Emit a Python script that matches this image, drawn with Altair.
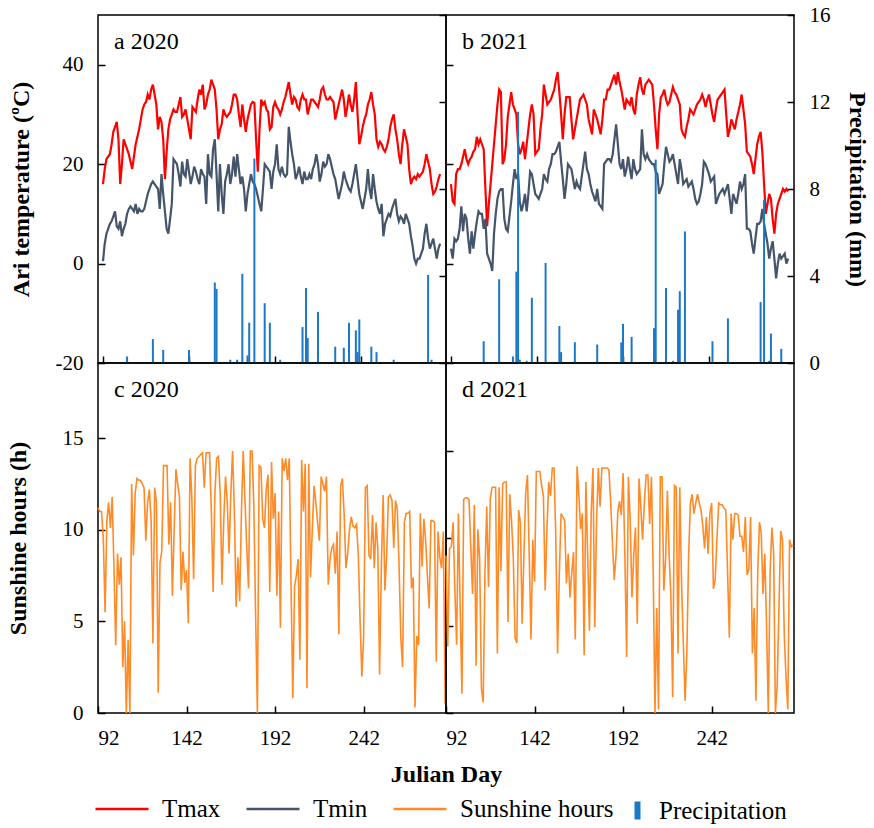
import altair as alt
import pandas as pd

# ---- daily series, Julian day 92 .. 288 -------------------------------------
FIRST_DAY = 92
X_DOMAIN = [92, 288.5]
X_TICKS = [92, 142, 192, 242]

tmax_2020 = [
    16, 19, 21, 21.5, 22, 24, 26.5, 27.5, 28.5, 25,
    16, 20, 25, 24, 23, 22, 20.5, 19, 21.5, 24,
    25.5, 27, 29, 31, 32, 32.5, 34, 33, 35, 36,
    34, 32, 27, 29.5, 28.5, 25, 17, 22.5, 27, 29,
    30, 31, 30.5, 30.5, 32, 33.5, 29.5, 30, 31, 29,
    27, 25, 31.5, 31, 30.5, 33, 35, 34, 36, 31,
    32, 34, 35, 37, 36, 35, 31, 25, 27, 28,
    31, 30, 29.5, 30, 30.5, 32, 34, 34, 33, 30,
    27.5, 32, 29, 26.5, 29, 30.5, 32, 32.5, 32.3, 25,
    18.5, 27, 33, 32, 32.5, 31, 30.5, 27, 27.5, 31.5,
    32.5, 31.5, 31, 30, 31, 32.5, 33.5, 35, 36.5, 34,
    32, 33.5, 33, 31.5, 31, 33, 34, 33, 33, 30,
    31.5, 33, 33, 32.5, 32, 31.5, 33, 35, 35.5, 34,
    33, 33, 33.5, 33, 32.5, 29, 30.5, 32, 33.5, 35,
    33, 29.5, 31.5, 34, 32, 30.5, 33, 36.5, 30, 24,
    25.5, 27.5, 29, 30, 32, 33, 34.5, 32, 30, 25,
    23.5, 24.5, 24, 23, 22.5, 23.5, 25, 27.5, 29, 30,
    27, 25, 22, 20, 24, 27, 25.5, 24, 19, 16,
    17, 17.5, 17, 18, 17.5, 18, 18.5, 20, 22, 20.5,
    19, 16, 14, 14.5, 15.5, 17, 18,
]
tmin_2020 = [
    0.5, 4, 6, 7, 8, 8.5, 9.5, 10.5, 7.5, 7,
    8.5, 5.5, 7, 8, 10, 11, 11.5, 11, 10.5, 12,
    10, 11, 10.5, 10.5, 11, 12.5, 14, 15, 16, 16.5,
    16, 15.5, 15, 11, 18, 14, 10.5, 7, 6, 9,
    12, 21, 20.5, 20, 18, 15.5, 20.5, 18, 17.5, 21,
    18.5, 16, 17.5, 19.5, 18.5, 17, 16, 19, 18, 17.5,
    12, 22, 18, 17.5, 23, 25, 18, 10.5, 20, 14,
    10, 16.5, 18, 20, 16, 18, 21.5, 17.5, 22, 19,
    16, 17.5, 15, 10.5, 14, 16, 18, 16.5, 16, 15,
    13.5, 12, 10.5, 15, 20, 19.5, 19, 18.5, 15, 18.5,
    20, 24, 19, 18, 19.5, 18, 17.5, 18, 27.5, 24.5,
    22, 20, 17, 18, 19.5, 17.5, 16, 18.5, 17, 17,
    18, 17, 19, 20, 22, 20, 16.5, 18, 20.5, 19.5,
    20, 22, 21, 19.5, 18, 17, 15, 13, 14.5, 16,
    18.5, 17, 16, 15, 14.5, 16, 18, 20, 17, 14,
    12.5, 11, 13, 15, 19, 15, 13, 18, 15, 12.5,
    11, 10, 12, 5.5, 8, 9, 10, 9.5, 11, 12,
    13, 10, 8.5, 9.5, 9, 8, 10, 9, 8, 5.5,
    3.5, 1, 0, 1, 1, 2, 3, 6, 8, 5,
    3, 4, 5, 3, 1, 3, 4,
]
tmax_2021 = [
    16, 12.5, 12, 18, 19, 19, 20, 21.5, 23, 21,
    20, 21, 21.5, 22.5, 23, 25.5, 24, 25, 24, 23,
    15, 7.5, 12, 16, 20, 24, 28, 32, 35, 34.5,
    20, 21, 24, 29.5, 32, 34.5, 32, 31, 30, 24,
    22, 23, 24.5, 21, 24, 27, 30, 32, 30, 22,
    22.5, 23, 27, 30, 36, 34, 32, 32.5, 33, 34,
    35, 37, 38.5, 34.5, 30, 25, 30, 33.5, 33.5, 33.5,
    29, 25, 27, 29, 31, 33, 33.5, 34, 33, 32,
    29, 27.5, 26, 31, 30, 29, 27.5, 26, 29, 33,
    33, 35, 35, 36, 37, 38, 36, 38.5, 36.5, 35,
    33, 31, 33, 32.5, 32, 33.5, 31, 30, 34, 36,
    37.5, 35, 34, 36, 36.5, 37, 36.5, 36, 32, 27,
    23, 30, 33.5, 34, 35, 33, 32, 32.5, 34, 35.5,
    34.5, 34, 33, 32, 27, 26, 25.5, 27.5, 29, 31,
    30.5, 30, 31, 32, 32.5, 33, 34, 33, 31.5, 33,
    34, 32, 30, 28.5, 31, 33, 33.5, 34, 34.5, 35,
    30, 25.5, 27, 29, 28, 27, 29, 30.5, 32, 34,
    31, 28, 22.5, 22, 21.5, 20, 18, 21, 24, 25.5,
    26.5, 22.5, 16, 10, 12, 14, 13, 9, 6, 10,
    12, 13, 14, 15, 14.5, 15, 14.5,
]
tmin_2021 = [
    3, 1, 5, 4.5, 5, 7, 11.5, 6.5, 10, 9,
    5, 2, 6.5, 3, 6, 8.5, 10.5, 10, 10, 7,
    9, 2, 1, 0, -1.5, 6, 10, 13, 14.5, 15,
    15, 9, 7, 6.5, 9.5, 12.5, 16, 19, 17, 18,
    12.5, 10.5, 12, 14, 10.5, 14, 18.5, 18, 16, 14,
    13.5, 13, 14, 15, 18, 17, 16.5, 19, 20, 22,
    22, 22.5, 23.5, 24.5, 20.5, 17, 13, 16, 20, 19.5,
    19, 17, 15, 16.5, 15.5, 15, 17.5, 20, 22.5, 19,
    18, 16, 14.5, 13.5, 12.5, 15, 12, 11.5, 11, 20,
    20.5, 21, 21, 20.5, 22, 25, 28, 24, 20, 19,
    21, 17.5, 19, 21.5, 19, 17, 21, 19, 18, 18.5,
    19, 27, 22, 21, 22, 21, 20.5, 20, 20, 18.5,
    18, 14, 15, 16, 20, 23.5, 22, 20.5, 21, 22,
    20, 18, 16, 21, 19, 16, 16.5, 17, 15.5, 16,
    16.5, 15, 13, 12, 12.5, 14, 16, 20.5, 20, 19,
    18, 16.5, 17, 17.5, 12, 13, 14, 14.5, 15, 14,
    15, 16, 13, 10, 14, 13, 12, 14, 16.5, 15,
    16, 18, 7, 7, 6.5, 4, 2, 5, 8, 8,
    8.5, 11, 8, 6, 4, 1, 3, 4.5, 1, -3,
    0, 2, 1, 1.5, 2, 0, 1,
]
sun_2020 = [
    11.2, 11.0, 11.0, 9.5, 5.5, 10.5, 11.5, 10.1, 11.8, 8.0,
    3.7, 8.7, 7.0, 8.5, 2.5, 5.0, 0.0, 4.0, 0.0, 12.5,
    8.6, 12.0, 12.8, 12.7, 12.7, 12.5, 12.3, 9.4, 11.5, 12.2,
    10.5, 3.8, 12.3, 11.5, 1.1, 8.2, 8.8, 13.5, 13.5, 13.5,
    9.2, 11.5, 6.4, 10.0, 13.3, 12.5, 11.8, 6.7, 8.8, 7.1,
    7.8, 4.9, 13.9, 11.7, 7.3, 13.5, 13.9, 14.0, 14.1, 14.2,
    12.3, 14.2, 14.2, 14.2, 11.0, 6.6, 12.0, 13.9, 14.0, 12.0,
    7.0, 10.5, 12.9, 11.5, 8.7, 12.0, 14.3, 11.0, 5.8, 8.5,
    6.1, 11.0, 14.3, 11.6, 9.0, 6.8, 14.3, 14.3, 11.3, 5.3,
    0.0, 13.5, 13.4, 10.6, 10.1, 12.2, 13.0, 6.6, 13.7, 10.6,
    12.0, 6.4, 11.0, 4.65, 13.9, 13.2, 13.9, 12.7, 13.9, 7.0,
    0.8, 6.9, 7.5, 8.4, 2.9, 13.8, 11.0, 13.6, 1.35, 13.6,
    7.4, 10.0, 12.4, 11.5, 10.4, 9.4, 12.9, 12.5, 12.1, 12.9,
    7.0, 8.4, 9.0, 9.2, 7.6, 9.9, 4.3, 12.4, 12.8, 10.8,
    7.9, 8.7, 10.0, 10.7, 10.2, 10.1, 10.3, 8.6, 5.0, 2.0,
    4.2, 12.3, 12.4, 8.6, 8.4, 10.8, 7.9, 10.4, 9.0, 2.1,
    8.0, 11.9, 6.7, 8.6, 11.8, 11.9, 11.6, 9.0, 11.6, 11.1,
    8.0, 4.1, 2.5, 10.4, 10.9, 10.9, 11.0, 6.8, 7.4, 0.3,
    4.2, 3.7, 10.9, 8.0, 10.6, 9.4, 7.5, 5.7, 10.5, 10.5,
    10.4, 2.8, 9.9, 8.5, 7.9, 9.9, 0.5,
]
sun_2021 = [
    9.0, 3.8, 9.4, 9.5, 10.9, 7.0, 3.9, 11.4, 6.0, 1.1,
    12.2, 12.3, 12.3, 12.2, 9.5, 6.8, 11.9, 2.7, 10.5, 8.8,
    1.4, 0.6, 8.0, 11.8, 7.2, 12.2, 12.9, 12.9, 12.9, 3.4,
    12.9, 8.1, 13.1, 13.2, 13.2, 5.2, 12.5, 11.0, 8.9, 4.3,
    4.0, 11.6, 10.9, 5.1, 9.0, 12.6, 13.6, 9.0, 4.2, 9.9,
    7.5, 13.8, 13.8, 13.8, 13.0, 12.4, 7.0, 10.5, 13.2, 12.4,
    14.0, 14.0, 10.0, 3.4, 8.0, 11.4, 11.2, 11.0, 7.4, 9.1,
    6.6, 8.0, 9.2, 4.2, 14.1, 12.5, 10.5, 11.4, 3.3, 13.2,
    9.0, 4.7, 11.5, 14.0, 4.9, 10.9, 14.0, 11.8, 14.0, 14.0,
    14.0, 14.0, 13.9, 12.0, 9.7, 7.6, 9.0, 11.5, 12.1, 11.3,
    13.7, 9.0, 3.2, 13.5, 11.0, 6.6, 9.0, 10.6, 5.1, 13.4,
    11.8, 9.9, 12.0, 13.6, 13.6, 10.8, 13.5, 8.0, 0.0, 6.0,
    0.2, 13.5, 13.5, 7.0, 8.8, 12.7, 9.0, 6.6, 0.9, 13.0,
    12.9, 3.4, 12.9, 7.5, 4.0, 0.7, 3.4, 9.0, 12.0, 12.5,
    11.4, 12.0, 12.5, 12.0, 11.6, 10.7, 9.4, 11.2, 9.1, 11.4,
    12.0, 7.1, 7.6, 10.0, 12.0, 11.9, 11.9, 11.7, 11.6, 8.0,
    4.3, 11.4, 9.9, 11.4, 11.4, 11.3, 10.1, 10.1, 9.2, 11.2,
    7.9, 8.2, 11.2, 3.4, 6.0, 0.7, 8.0, 10.9, 10.3, 6.8,
    9.1, 5.0, 0.0, 8.0, 10.6, 9.2, 0.0, 1.6, 6.0, 10.4,
    9.9, 4.5, 2.0, 0.2, 9.9, 9.5, 9.6,
]

# rain days only
rain_days_2020 = [106, 121, 127, 142, 157, 158, 166, 170, 173, 176, 177, 180,
                  186, 189, 195, 208, 210, 211, 217, 227, 232, 235, 239, 240,
                  241, 248, 251, 261, 281, 283]
rain_mm_2020 = [0.3, 1.1, 0.6, 0.6, 3.7, 3.4, 0.15, 0.15, 4.1, 0.35, 1.85, 9.4,
                2.75, 1.85, 0.15, 1.65, 3.45, 1.15, 2.35, 0.75, 0.7, 1.85, 1.5, 0.5,
                2.0, 0.75, 0.5, 0.15, 4.05, 0.15]
rain_days_2021 = [111, 120, 128, 130, 131, 132, 136, 139, 147, 155, 156, 164,
                  177, 191, 192, 197, 210, 211, 217, 221, 224, 225, 228, 244,
                  253, 272, 274, 277, 278, 284]
rain_mm_2021 = [1.0, 3.85, 0.3, 4.2, 11.55, 0.15, 0.1, 3.0, 4.6, 1.7, 0.5, 0.95,
                0.85, 0.95, 1.8, 1.2, 1.6, 9.35, 3.45, 0.1, 2.45, 3.3, 6.05, 1.0,
                2.05, 2.8, 7.5, 0.1, 1.35, 0.65]

panel_labels = ["a 2020", "b 2021", "c 2020", "d 2021"]
line_series = ["Tmax", "Tmin", "Sunshine hours"]
line_colors = ["#FF0000", "#44546A", "#FF8A26"]
bar_series = ["Precipitation"]
bar_colors = ["#1A78C8"]

FONT = "Liberation Serif"
PANEL_W = 348
TOP_H = 348
BOTTOM_H = 350
INWARD = {"expr": "-7"}
TICK_FONT = 21


def days_for(values):
    return list(range(FIRST_DAY, FIRST_DAY + len(values)))


def temp_frame(tmax, tmin):
    return pd.concat([
        pd.DataFrame({"day": days_for(tmax), "value": tmax, "series": "Tmax"}),
        pd.DataFrame({"day": days_for(tmin), "value": tmin, "series": "Tmin"}),
    ])


stroke_legend = alt.Legend(
    title=None, orient="none", legendX=-4, legendY=766, direction="horizontal",
    symbolType="stroke", symbolSize=2809, symbolStrokeWidth=2.5,
    labelFont=FONT, labelFontSize=25, labelColor="black", labelOffset=12,
    columnPadding=20,
)
fill_legend = alt.Legend(
    title=None, orient="none", legendX=527, legendY=783, direction="horizontal",
    symbolType="M-0.3,-0.9L0.3,-0.9L0.3,0.9L-0.3,0.9Z", symbolSize=400,
    symbolStrokeWidth=0, labelFont=FONT, labelFontSize=25, labelColor="black",
    labelOffset=9,
)
stroke_scale = alt.Scale(domain=line_series, range=line_colors)
fill_scale = alt.Scale(domain=bar_series, range=bar_colors)


def label_layer(text):
    return alt.Chart(pd.DataFrame({"label": [text]})).mark_text(
        align="left", baseline="alphabetic", font=FONT, fontSize=24, color="black"
    ).encode(text="label:N", x=alt.value(16), y=alt.value(34))


def y_axis(values, show, title, orient="left", title_pad=22):
    return alt.Axis(
        orient=orient, values=values, labels=show, labelExpr="datum.value",
        tickSize=INWARD, tickWidth=1.5, tickColor="black", domain=False, grid=False,
        labelFontSize=TICK_FONT, labelPadding=22, labelFont=FONT, labelColor="black",
        title=title if show else None, titleFontSize=24, titleFontWeight="bold",
        titleFont=FONT, titlePadding=title_pad, titleColor="black",
    )


def top_panel(tmax, tmin, rain_days, rain_mm, label, left_labels, right_labels):
    x = alt.X("day:Q", scale=alt.Scale(domain=X_DOMAIN, nice=False, zero=False),
              axis=alt.Axis(values=X_TICKS, labels=False, tickSize=INWARD,
                            tickWidth=1.5, tickColor="black", domain=False,
                            grid=False, title=None))
    lines = alt.Chart(temp_frame(tmax, tmin)).mark_line(strokeWidth=2.2).encode(
        x=x,
        y=alt.Y("value:Q", scale=alt.Scale(domain=[-20, 50], nice=False),
                axis=y_axis([-20, 0, 20, 40], left_labels, "Ari temperature (ºC)")),
        stroke=alt.Stroke("series:N", scale=stroke_scale, legend=stroke_legend),
    )
    rain = alt.Chart(pd.DataFrame({
        "day": rain_days, "mm": rain_mm, "series": "Precipitation"
    })).mark_bar(size=2, orient="vertical").encode(
        x=alt.X("day:Q"),
        y=alt.Y("mm:Q", scale=alt.Scale(domain=[0, 16], nice=False),
                axis=y_axis([0, 4, 8, 12, 16], right_labels, "Precipitation (mm)",
                            orient="right", title_pad=14)),
        y2=alt.datum(0),
        fill=alt.Fill("series:N", scale=fill_scale, legend=fill_legend),
    )
    return alt.layer(lines, rain, label_layer(label)).resolve_scale(
        y="independent"
    ).properties(width=PANEL_W, height=TOP_H)


def bottom_panel(sun, label, ymax, left_labels, with_title):
    x = alt.X("day:Q", scale=alt.Scale(domain=X_DOMAIN, nice=False, zero=False),
              axis=alt.Axis(values=X_TICKS, tickSize=INWARD, tickWidth=1.5,
                            tickColor="black", domain=False, grid=False,
                            labelFontSize=TICK_FONT, labelPadding=21, labelFont=FONT,
                            labelColor="black",
                            title="Julian Day" if with_title else None,
                            titleFontSize=24, titleFontWeight="bold", titleFont=FONT,
                            titleColor="black", titlePadding=14, titleX=PANEL_W))
    line = alt.Chart(pd.DataFrame({
        "day": days_for(sun), "hours": sun, "series": "Sunshine hours"
    })).mark_line(strokeWidth=1.6).encode(
        x=x,
        y=alt.Y("hours:Q", scale=alt.Scale(domain=[0, ymax], nice=False),
                axis=y_axis([0, 5, 10, 15], left_labels, "Sunshine hours (h)",
                            title_pad=32)),
        stroke=alt.Stroke("series:N", scale=stroke_scale, legend=stroke_legend),
    )
    return alt.layer(line, label_layer(label)).properties(width=PANEL_W, height=BOTTOM_H)


panel_a = top_panel(tmax_2020, tmin_2020, rain_days_2020, rain_mm_2020,
                    panel_labels[0], True, False)
panel_b = top_panel(tmax_2021, tmin_2021, rain_days_2021, rain_mm_2021,
                    panel_labels[1], False, True)
panel_c = bottom_panel(sun_2020, panel_labels[2], 19.1, True, True)
panel_d = bottom_panel(sun_2021, panel_labels[3], 20, False, False)

chart = alt.concat(
    panel_a, panel_b, panel_c, panel_d, columns=2, spacing=0, bounds="flush"
).properties(
    padding={"left": 5, "top": 3, "right": 5, "bottom": 5}
).configure(font=FONT).configure_view(
    stroke="black", strokeWidth=1.5
).configure_axis(
    labelFont=FONT, titleFont=FONT
).configure_legend(
    labelFont=FONT
).configure_text(
    font=FONT
)

chart.save("out.html", embed_options={"renderer": "svg", "actions": False})
